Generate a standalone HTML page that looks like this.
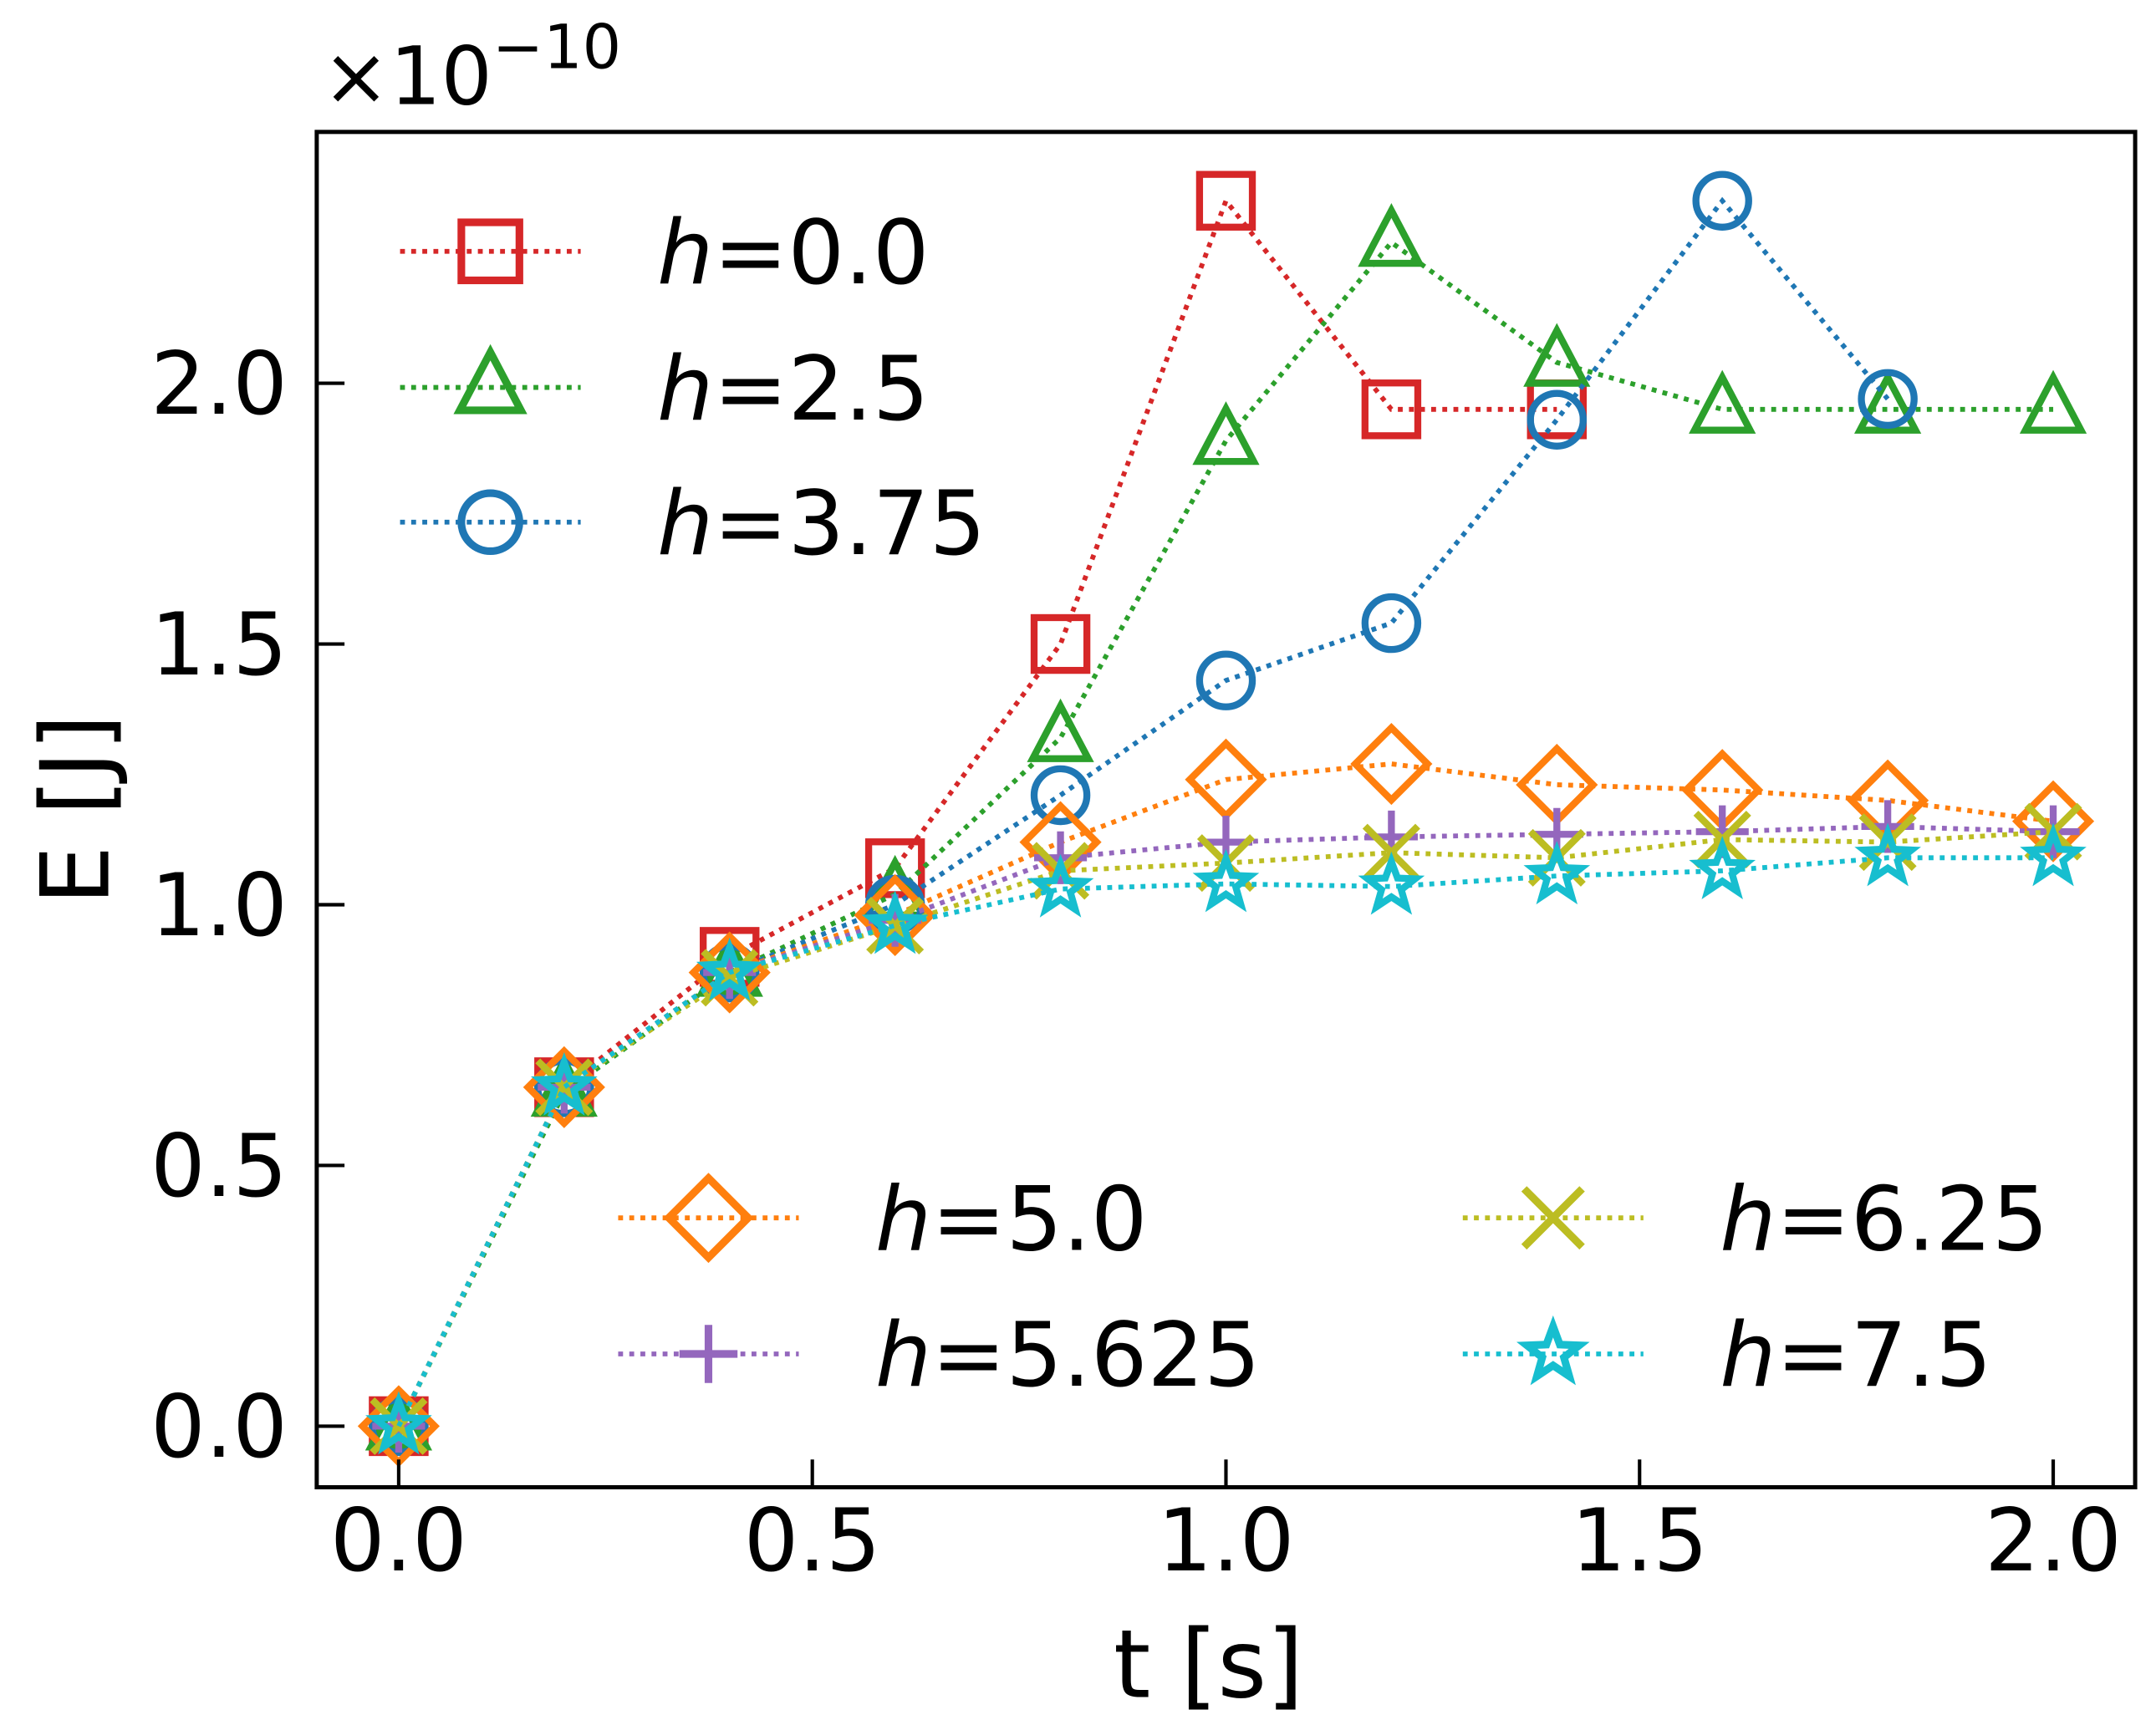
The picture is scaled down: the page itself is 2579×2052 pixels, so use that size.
<!DOCTYPE html>
<html><head><meta charset="utf-8"><style>
html,body{margin:0;padding:0;background:#fff;}
svg{display:block;}
text{font-family:"DejaVu Sans","Liberation Sans",sans-serif;fill:#000;}
</style></head><body>
<svg id="chart" width="2579" height="2052" viewBox="0 0 1552 1235" preserveAspectRatio="none" xmlns="http://www.w3.org/2000/svg">
<rect x="0" y="0" width="1552" height="1235" fill="#fff"/>
<g id="series"></g>
<g id="axes"></g>
<g id="legend"></g>
</svg>
<script>
const tVals = [0.0,0.2,0.4,0.6,0.8,1.0,1.2,1.4,1.6,1.8,2.0];
const e_h0    = [0,0.65,0.90,1.07,1.50,2.35,1.95,1.95];
const e_h25   = [0,0.64,0.87,1.02,1.32,1.89,2.27,2.04,1.95,1.95,1.95];
const e_h375  = [0,0.65,0.87,1.00,1.21,1.43,1.54,1.93,2.35,1.97];
const e_h5    = [0,0.65,0.87,0.98,1.12,1.24,1.27,1.23,1.22,1.20,1.16];
const e_h5625 = [0,0.65,0.87,0.97,1.09,1.12,1.13,1.135,1.14,1.15,1.14];
const e_h625  = [0,0.65,0.86,0.96,1.065,1.08,1.10,1.09,1.125,1.12,1.14];
const e_h75   = [0,0.65,0.87,0.96,1.03,1.04,1.035,1.055,1.065,1.09,1.09];
const xTicks = ["0.0","0.5","1.0","1.5","2.0"];
const yTicks = ["0.0","0.5","1.0","1.5","2.0"];

const NS="http://www.w3.org/2000/svg";
const X0=228,X1=1537,Y0=95,Y1=1071;
function xs(v){return 287+(v/2)*(1478-287);}
function ys(v){return 1027-(v/2)*(1027-276);}
function mk(tag,attrs,parent){const e=document.createElementNS(NS,tag);for(const k in attrs)e.setAttribute(k,attrs[k]);parent.appendChild(e);return e;}

function marker(type,cx,cy,color,parent){
  const sw=5,r=19;let e;
  if(type==='square'){e=mk('rect',{x:cx-r,y:cy-r,width:2*r,height:2*r,fill:'none',stroke:color,'stroke-width':sw},parent);}
  else if(type==='tri'){e=mk('polygon',{points:`${cx},${cy-23} ${cx+20},${cy+15} ${cx-20},${cy+15}`,fill:'none',stroke:color,'stroke-width':sw},parent);}
  else if(type==='circle'){e=mk('circle',{cx:cx,cy:cy,r:r,fill:'none',stroke:color,'stroke-width':sw},parent);}
  else if(type==='diamond'){e=mk('polygon',{points:`${cx},${cy-26} ${cx+26},${cy} ${cx},${cy+26} ${cx-26},${cy}`,fill:'none',stroke:color,'stroke-width':sw},parent);}
  else if(type==='plus'){e=mk('path',{d:`M${cx-19},${cy}H${cx+19}M${cx},${cy-19}V${cy+19}`,fill:'none',stroke:color,'stroke-width':sw},parent);}
  else if(type==='x'){e=mk('path',{d:`M${cx-19},${cy-19}L${cx+19},${cy+19}M${cx-19},${cy+19}L${cx+19},${cy-19}`,fill:'none',stroke:color,'stroke-width':sw},parent);}
  else {let p=[];for(let i=0;i<10;i++){const a=-Math.PI/2+i*Math.PI/5;const rr=i%2?7.5:18;p.push((cx+rr*Math.cos(a)).toFixed(1)+','+(cy+rr*Math.sin(a)).toFixed(1));}
    e=mk('polygon',{points:p.join(' '),fill:'none',stroke:color,'stroke-width':sw},parent);}
  return e;
}

const seriesDefs=[
 {name:'h0',vals:e_h0,color:'#d62728',m:'square',label:'0.0'},
 {name:'h2-5',vals:e_h25,color:'#2ca02c',m:'tri',label:'2.5'},
 {name:'h3-75',vals:e_h375,color:'#1f77b4',m:'circle',label:'3.75'},
 {name:'h5-0',vals:e_h5,color:'#ff7f0e',m:'diamond',label:'5.0'},
 {name:'h5-625',vals:e_h5625,color:'#9467bd',m:'plus',label:'5.625'},
 {name:'h6-25',vals:e_h625,color:'#bcbd22',m:'x',label:'6.25'},
 {name:'h7-5',vals:e_h75,color:'#17becf',m:'star',label:'7.5'}
];
const sg=document.getElementById('series');
seriesDefs.forEach(s=>{
  const g=mk('g',{},sg);
  
  
  const pts=s.vals.map((v,i)=>xs(tVals[i]).toFixed(1)+','+ys(v).toFixed(1)).join(' ');
  const pl=mk('polyline',{points:pts,fill:'none',stroke:s.color,'stroke-width':3.5,'stroke-dasharray':'3.5,4.5'},g);
  
  
  s.vals.forEach((v,i)=>{
    const m=marker(s.m,xs(tVals[i]),ys(v),s.color,g);
    
    
  });
});

const ag=document.getElementById('axes');
const frame=mk('rect',{x:X0,y:Y0,width:X1-X0,height:Y1-Y0,fill:'none',stroke:'#000','stroke-width':3},ag);


xTicks.forEach(t=>{
  const x=xs(parseFloat(t));
  const l=mk('line',{x1:x,y1:Y1,x2:x,y2:Y1-20,stroke:'#000','stroke-width':2.5},ag);
  
  
  const tx=mk('text',{x:x,y:1131,'font-size':62,'text-anchor':'middle'},ag);tx.textContent=t;
  
  
});
yTicks.forEach(t=>{
  const y=ys(parseFloat(t));
  const l=mk('line',{x1:X0,y1:y,x2:X0+20,y2:y,stroke:'#000','stroke-width':2.5},ag);
  
  
  const tx=mk('text',{x:207,y:y+22,'font-size':62,'text-anchor':'end'},ag);tx.textContent=t;
  
  
});
const xl=mk('text',{x:870,y:1222,'font-size':68,'text-anchor':'middle'},ag);xl.textContent='t [s]';


const yl=mk('text',{x:0,y:0,'font-size':68,'text-anchor':'middle',transform:'translate(78,583) rotate(-90)'},ag);yl.textContent='E [J]';


const off=mk('text',{x:232,y:75,'font-size':58},ag);
off.innerHTML='×10<tspan dy="-26" font-size="44">−10</tspan>';



const lg=document.getElementById('legend');
const legPos=[[353,181],[353,279],[353,376],[510,877],[510,975],[1118,877],[1118,975]];
seriesDefs.forEach((s,i)=>{
  const [cx,cy]=legPos[i];
  const g=mk('g',{},lg);
  
  
  mk('line',{x1:cx-65,y1:cy,x2:cx+65,y2:cy,stroke:s.color,'stroke-width':3.5,'stroke-dasharray':'3.5,4.5'},g);
  const m=marker(s.m,cx,cy,s.color,g);
  m.setAttribute('transform',`translate(${cx},${cy}) scale(1.1) translate(${-cx},${-cy})`);
  const tx=mk('text',{x:cx+120,y:cy+23,'font-size':64},g);
  tx.innerHTML='<tspan font-style="italic">h</tspan>='+s.label;
});
</script>
</body></html>
